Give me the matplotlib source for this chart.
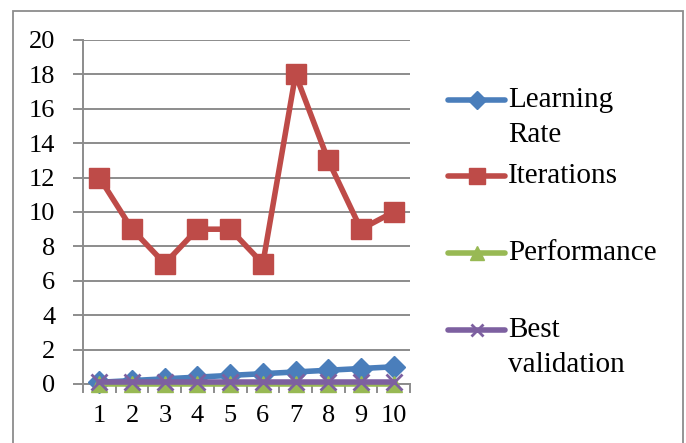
import matplotlib
matplotlib.use("Agg")
import matplotlib.pyplot as plt
from matplotlib.patches import Rectangle
from matplotlib.lines import Line2D
import numpy as np

categories = ["1", "2", "3", "4", "5", "6", "7", "8", "9", "10"]
learning_rate = [0.1, 0.2, 0.3, 0.4, 0.5, 0.6, 0.7, 0.8, 0.9, 1.0]
iterations = [12, 9, 7, 9, 9, 7, 18, 13, 9, 10]
performance = [0.0, 0.0, 0.0, 0.0, 0.0, 0.0, 0.0, 0.0, 0.0, 0.0]
best_validation = [0.1, 0.1, 0.1, 0.1, 0.1, 0.1, 0.1, 0.1, 0.1, 0.1]
y_ticks = [0, 2, 4, 6, 8, 10, 12, 14, 16, 18, 20]

plt.rcParams["font.family"] = ["Liberation Serif", "DejaVu Serif"]
FS = 19
LEG_FS = 21
GRAY = "#8c8c8c"

W, H = 686, 443
fig = plt.figure(figsize=(W / 100, H / 100), dpi=100)
ax = fig.add_axes([83 / W, 1 - 384 / H, (410 - 83) / W, (384 - 40) / H])

# outer chart frame
fig.patches.append(Rectangle((13 / W, -0.05), (683 - 13) / W, 1.05 - 11 / H,
                             transform=fig.transFigure, fill=False,
                             edgecolor=GRAY, linewidth=1.3, clip_on=False))

series = [
    ("Learning\nRate", learning_rate, "#4a7ebb", dict(marker="D", ms=11), 3),
    ("Iterations", iterations, "#be4b48", dict(marker="s", ms=14), 3),
    ("Performance", performance, "#98b954", dict(marker="^", ms=11), 4),
    ("Best\nvalidation", best_validation, "#7d60a0", dict(marker="x", ms=11, mew=2), 5),
]

x = np.arange(1, len(categories) + 1)
lw = 4.0
for label, vals, color, mk, z in series:
    ax.plot(x, vals, color=color, lw=lw, zorder=z, clip_on=False, **mk)

ax.set_xlim(0.5, len(categories) + 0.5)
ax.set_ylim(0, 20)
ax.set_yticks(y_ticks)
ax.set_yticklabels([str(t) for t in y_ticks], fontsize=FS)
ax.set_xticks(x)
ax.set_xticklabels(categories, fontsize=FS)
ax.tick_params(axis="x", length=0, pad=15)
ax.tick_params(axis="y", length=7, color=GRAY, width=1.4, pad=13)

# category separators below the axis
for b in np.arange(0.5, len(categories) + 1, 1.0):
    ax.plot([b, b], [0, -0.47], color=GRAY, lw=1.4, clip_on=False, zorder=1)

ax.grid(axis="y", color=GRAY, lw=1.4, zorder=0)
for s in ["top", "right"]:
    ax.spines[s].set_visible(False)
for s in ["left", "bottom"]:
    ax.spines[s].set_color(GRAY)
    ax.spines[s].set_linewidth(1.4)

# legend: handle aligned with the first line of each label
leg_rows = [100, 176, 253, 330]
small = {"D": 9, "s": 11, "^": 10, "x": 9}
for (label, vals, color, mk, z), yp in zip(series, leg_rows):
    yf = 1 - yp / H
    kw = dict(mk)
    kw["ms"] = small[mk["marker"]]
    fig.add_artist(Line2D([448 / W, 476.5 / W, 505 / W], [yf, yf, yf],
                          transform=fig.transFigure, color=color, lw=lw,
                          solid_capstyle="round", markevery=[1], **kw))
    fig.text(508 / W, yf + 13 / H, label, fontsize=LEG_FS, va="top", ha="left",
             linespacing=1.45)

fig.savefig("out.png", dpi=100)
